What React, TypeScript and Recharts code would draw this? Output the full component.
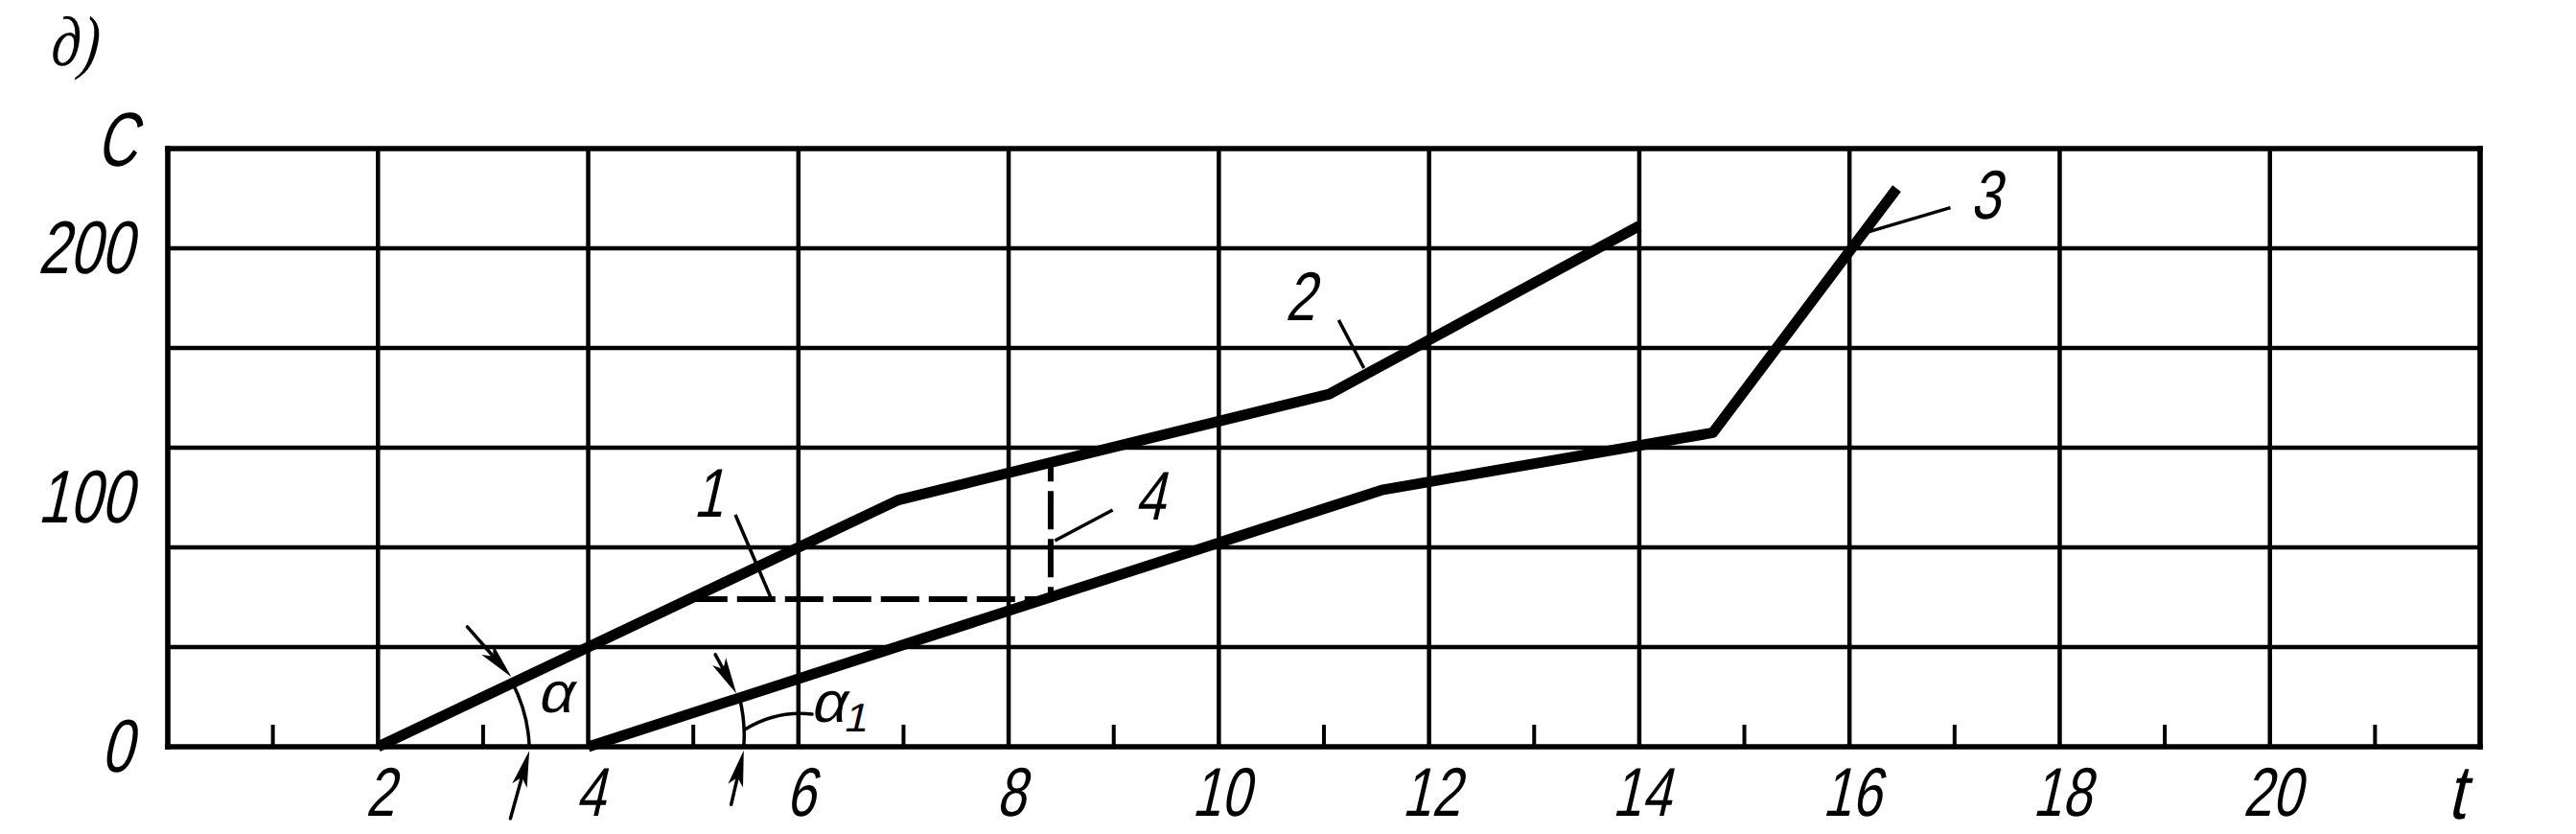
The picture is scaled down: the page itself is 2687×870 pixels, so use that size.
import React from 'react';
import { LineChart, Line, XAxis, YAxis, CartesianGrid, ReferenceLine, ReferenceDot } from 'recharts';

// ---- axes ----
const xMajorTicks = [2, 4, 6, 8, 10, 12, 14, 16, 18, 20];
const xMinorTicks = [1, 3, 5, 7, 9, 11, 13, 15, 17, 19, 21];
const yGridTicks = [40, 80, 120, 160, 200];
const yLabelTicks = [0, 100, 200];
const xDomain = [0, 22];
const yDomain = [0, 240];

// ---- series (t, C) ----
const curve12 = [
  { x: 2, y: 0 },
  { x: 6.95, y: 99 },
  { x: 11.05, y: 141.5 },
  { x: 14, y: 209 },
];
const curve3 = [
  { x: 4, y: 0 },
  { x: 11.55, y: 103 },
  { x: 14.7, y: 126 },
  { x: 16.45, y: 224 },
];
const curve4 = [
  { x: 4.96, y: 59.2 },
  { x: 8.4, y: 59.2 },
  { x: 8.4, y: 112.5 },
];

// ---- annotations (data units) ----
const curveLabels = [
  { x: 5.14, y: 92.3, text: '1' },
  { x: 9.34, y: 91.2, text: '4' },
  { x: 10.77, y: 171.2, text: '2' },
  { x: 17.29, y: 212, text: '3' },
];
const leaders = [
  { x1: 5.4, y1: 93.1, x2: 5.74, y2: 59.6 },
  { x1: 8.44, y1: 82.7, x2: 8.99, y2: 95 },
  { x1: 11.14, y1: 171.2, x2: 11.38, y2: 151.9 },
  { x1: 16.96, y1: 216.3, x2: 16.18, y2: 206.6 },
];
const arrows = [
  { x1: 2.85, y1: 48.1, x2: 3.27, y2: 28 },
  { x1: 3.26, y1: -28.8, x2: 3.44, y2: -1.5 },
  { x1: 5.21, y1: 37, x2: 5.41, y2: 21.3 },
  { x1: 5.36, y1: -23.2, x2: 5.48, y2: -1.4 },
];
const arcs = [
  { x1: 3.28, y1: 25.6, x2: 3.44, y2: 0, r: 158 },
  { x1: 5.44, y1: 19.6, x2: 5.48, y2: 0, r: 162 },
  { x1: 5.49, y1: 6.9, x2: 6.13, y2: 13.1, r: 110 },
];
const angleLabels = [
  { x: 3.68, y: 13.8, text: 'α', sub: '' },
  { x: 6.39, y: 10, text: 'α', sub: '1' },
];

const FONT = "'Liberation Sans', Arimo, Arial, sans-serif";
const INK = '#000';

function Glyph(props: any) {
  const { x, y, size, anchor = 'middle', sx = 0.78, skew = -13, family = FONT, children } = props;
  return (
    <text
      transform={`translate(${x} ${y}) skewX(${skew}) scale(${sx} 1)`}
      x={0}
      y={0}
      fontSize={size}
      fontFamily={family}
      textAnchor={anchor}
      fill={INK}
      stroke="none"
    >
      {children}
    </text>
  );
}

const XTick = (p: any) => (
  <Glyph x={p.x + 2} y={p.y + 72} size={72} sx={0.76}>
    {String(p.payload.value)}
  </Glyph>
);
const MinorTick = (p: any) => (
  <line x1={p.x} x2={p.x} y1={p.y - 2} y2={p.y - 24} stroke={INK} strokeWidth={4} />
);
const YTick = (p: any) => (
  <Glyph x={p.x - 36} y={p.y + 26} size={78} anchor="end" sx={0.76}>
    {String(p.payload.value)}
  </Glyph>
);

const ArrowShape = (p: any) => {
  const { x1, y1, x2, y2 } = p;
  const dx = x2 - x1;
  const dy = y2 - y1;
  const len = Math.sqrt(dx * dx + dy * dy) || 1;
  const ux = dx / len;
  const uy = dy / len;
  const L = 38;
  const w = 8;
  const bx = x2 - ux * L;
  const by = y2 - uy * L;
  const nx = -uy;
  const ny = ux;
  return (
    <g>
      <line x1={x1} y1={y1} x2={bx + ux * 8} y2={by + uy * 8} stroke={INK} strokeWidth={3.5} strokeLinecap="round" />
      <polygon
        points={`${x2},${y2} ${bx + nx * w},${by + ny * w} ${bx + ux * 9},${by + uy * 9} ${bx - nx * w},${by - ny * w}`}
        fill={INK}
      />
    </g>
  );
};

const makeArc = (r: number) => (p: any) => (
  <path
    d={`M${p.x1},${p.y1} A${r},${r} 0 0 1 ${p.x2},${p.y2}`}
    fill="none"
    stroke={INK}
    strokeWidth={3.5}
    strokeLinecap="round"
  />
);

export default function App() {
  return (
    <div style={{ position: 'absolute', left: 0, top: 0, width: 2687, height: 870, background: '#fff' }}>
      <LineChart width={2687} height={870} margin={{ top: 155, right: 100, bottom: 89, left: 173 }}>
        <XAxis
          type="number"
          dataKey="x"
          domain={xDomain}
          ticks={xMajorTicks}
          interval={0}
          axisLine={false}
          tickLine={false}
          tickSize={0}
          tickMargin={0}
          height={1}
          tick={XTick}
        />
        <XAxis
          xAxisId="minor"
          type="number"
          dataKey="x"
          domain={xDomain}
          allowDataOverflow
          ticks={xMinorTicks}
          interval={0}
          axisLine={false}
          tickLine={false}
          tickSize={0}
          tickMargin={0}
          tick={MinorTick}
          height={1}
        />
        <YAxis
          type="number"
          domain={yDomain}
          ticks={yGridTicks}
          interval={0}
          axisLine={false}
          tickLine={false}
          tick={false}
          width={1}
        />
        <YAxis
          yAxisId="lab"
          type="number"
          domain={yDomain}
          allowDataOverflow
          ticks={yLabelTicks}
          interval={0}
          axisLine={false}
          tickLine={false}
          tickSize={0}
          tickMargin={0}
          tick={YTick}
          width={1}
        />
        <CartesianGrid stroke={INK} strokeWidth={4.5} fill="none" horizontal={false} />
        {yGridTicks.map((v) => (
          <ReferenceLine key={`gy${v}`} y={v} stroke={INK} strokeWidth={4.5} ifOverflow="visible" />
        ))}

        <ReferenceLine x={xDomain[0]} stroke={INK} strokeWidth={5.5} strokeLinecap="square" ifOverflow="visible" />
        <ReferenceLine x={xDomain[1]} stroke={INK} strokeWidth={5.5} strokeLinecap="square" ifOverflow="visible" />
        <ReferenceLine y={yDomain[0]} stroke={INK} strokeWidth={5.5} strokeLinecap="square" ifOverflow="visible" />
        <ReferenceLine y={yDomain[1]} stroke={INK} strokeWidth={5.5} strokeLinecap="square" ifOverflow="visible" />

        <Line
          data={curve4}
          dataKey="y"
          type="linear"
          stroke={INK}
          strokeWidth={6}
          strokeDasharray="40 10"
          dot={false}
          activeDot={false}
          isAnimationActive={false}
        />
        <Line
          data={curve12}
          dataKey="y"
          type="linear"
          stroke={INK}
          strokeWidth={11}
          strokeLinejoin="round"
          dot={false}
          activeDot={false}
          isAnimationActive={false}
        />
        <Line
          data={curve3}
          dataKey="y"
          type="linear"
          stroke={INK}
          strokeWidth={11}
          strokeLinejoin="round"
          dot={false}
          activeDot={false}
          isAnimationActive={false}
        />

        {leaders.map((s, i) => (
          <ReferenceLine
            key={`ld${i}`}
            segment={[{ x: s.x1, y: s.y1 }, { x: s.x2, y: s.y2 }]}
            stroke={INK}
            strokeWidth={3.5}
            ifOverflow="visible"
          />
        ))}
        {arrows.map((s, i) => (
          <ReferenceLine
            key={`ar${i}`}
            segment={[{ x: s.x1, y: s.y1 }, { x: s.x2, y: s.y2 }]}
            ifOverflow="visible"
            shape={ArrowShape}
          />
        ))}
        {arcs.map((s, i) => (
          <ReferenceLine
            key={`arc${i}`}
            segment={[{ x: s.x1, y: s.y1 }, { x: s.x2, y: s.y2 }]}
            ifOverflow="visible"
            shape={makeArc(s.r)}
          />
        ))}

        {curveLabels.map((l, i) => (
          <ReferenceDot
            key={`cl${i}`}
            x={l.x}
            y={l.y}
            r={1}
            ifOverflow="visible"
            shape={(p: any) => (
              <Glyph x={p.cx} y={p.cy} size={72}>
                {l.text}
              </Glyph>
            )}
          />
        ))}
        {angleLabels.map((l, i) => (
          <ReferenceDot
            key={`al${i}`}
            x={l.x}
            y={l.y}
            r={1}
            ifOverflow="visible"
            shape={(p: any) => (
              <Glyph x={p.cx} y={p.cy} size={60} sx={1.05}>
                {l.text}
                {l.sub ? (
                  <tspan fontSize={42} dy={10}>
                    {l.sub}
                  </tspan>
                ) : null}
              </Glyph>
            )}
          />
        ))}

        <ReferenceDot
          x={-0.49}
          y={233}
          r={1}
          ifOverflow="visible"
          shape={(p: any) => (
            <Glyph x={p.cx} y={p.cy} size={80} sx={0.72}>
              C
            </Glyph>
          )}
        />
        <ReferenceDot
          x={21.77}
          y={-29}
          r={1}
          ifOverflow="visible"
          shape={(p: any) => (
            <Glyph x={p.cx} y={p.cy} size={80} sx={0.85}>
              t
            </Glyph>
          )}
        />
        <ReferenceDot
          x={-1.12}
          y={273.5}
          r={1}
          ifOverflow="visible"
          shape={(p: any) => (
            <Glyph
              x={p.cx}
              y={p.cy}
              size={74}
              sx={0.8}
              skew={-6}
              anchor="start"
              family="'Liberation Serif', 'Times New Roman', serif"
            >
              <tspan fontStyle="italic">д)</tspan>
            </Glyph>
          )}
        />
      </LineChart>
    </div>
  );
}
